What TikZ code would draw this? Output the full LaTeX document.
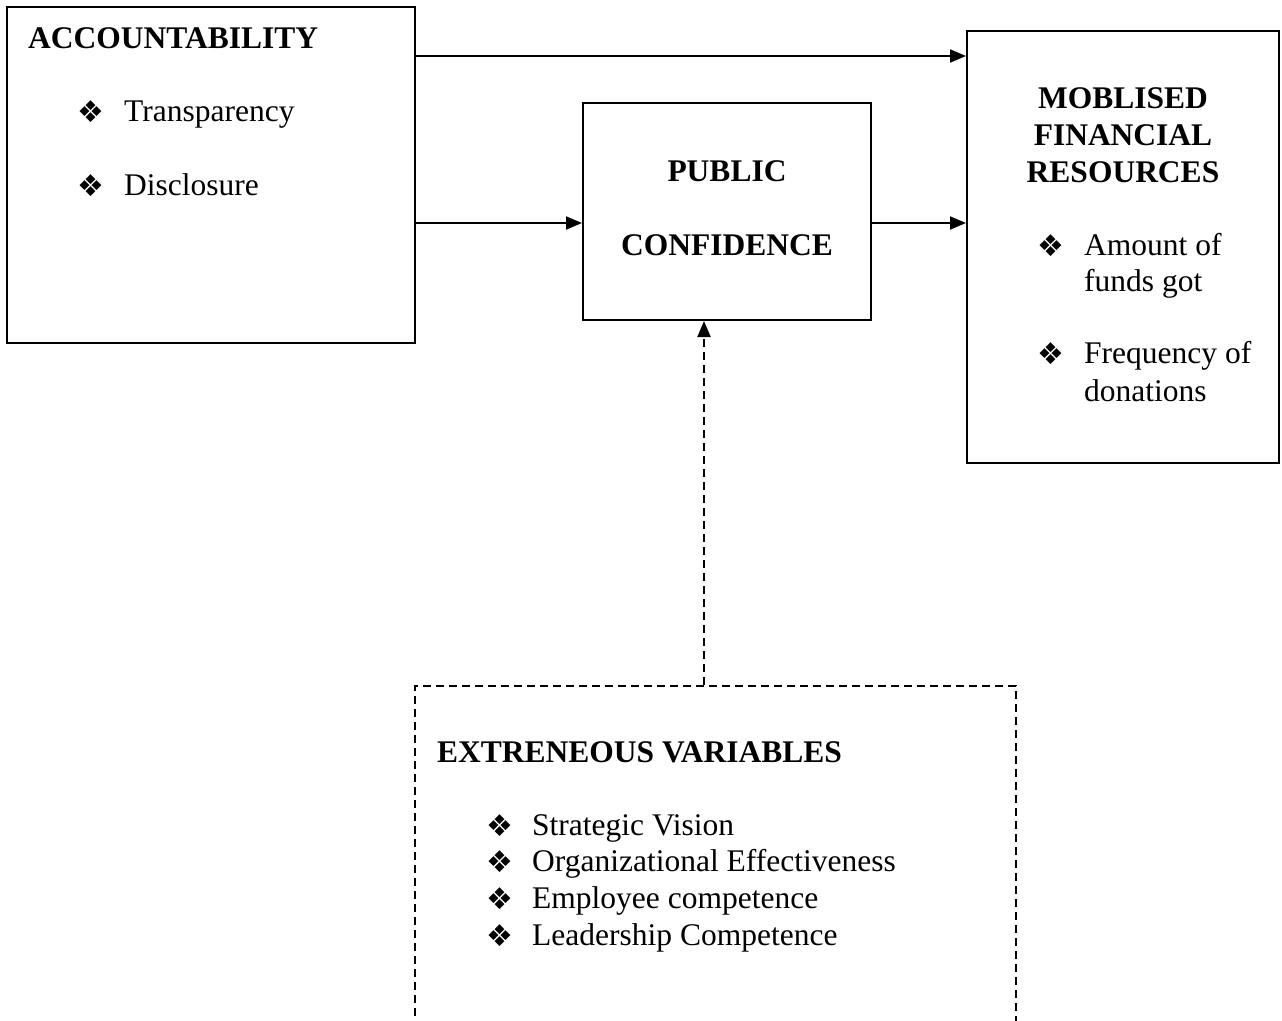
\documentclass[tikz,border=0pt]{standalone}
\usepackage{fontspec}
\setmainfont{Liberation Serif}
\newfontfamily\symfont{DejaVu Sans}
\usetikzlibrary{arrows.meta}
\newcommand{\bul}{{\symfont\fontsize{30}{30}\selectfont ❖}}
\tikzset{
  box/.style={draw, line width=2pt, inner sep=0pt},
  dbox/.style={box, dash pattern=on 8pt off 5pt},
  arr/.style={line width=2pt, -{Triangle[length=16pt,width=13pt]}},
  txt/.style={anchor=base west, inner sep=0pt, font=\fontsize{31.5}{37}\selectfont},
  head/.style={txt, font=\fontsize{31.5}{37}\selectfont\bfseries},
  mid/.style={head, anchor=base},
  dot/.style={anchor=base west, inner sep=0pt}
}
\begin{document}
\begin{tikzpicture}[x=1pt, y=-1pt]
		%%%%% START %%%%%
		\useasboundingbox (0,0) rectangle (1282,1020);
		\clip (0,0) rectangle (1282,1020);
		
		% boxes
		\node[box, minimum width=408, minimum height=336] (acc) at (211,175) {};
		\node[box, minimum width=288, minimum height=217] (pub) at (727,211.5) {};
		\node[box, minimum width=312, minimum height=432] (mob) at (1123,247) {};
		\node[dbox, minimum width=601, minimum height=374] (ext) at (715.5,873) {};
		
		% accountability
		\node[head] (accT) at (28,48) {ACCOUNTABILITY};
		\node[dot] (accD1) at (77,122) {\bul};
		\node[txt] (accA) at (124,121) {Transparency};
		\node[dot] (accD2) at (77,196) {\bul};
		\node[txt] (accB) at (124,195) {Disclosure};
		
		% public confidence
		\node[mid] (pubT1) at (727,181) {PUBLIC};
		\node[mid] (pubT2) at (727,255) {CONFIDENCE};
		
		% mobilised resources
		\node[mid] (mobT1) at (1123,108) {MOBLISED};
		\node[mid] (mobT2) at (1123,145) {FINANCIAL};
		\node[mid] (mobT3) at (1123,182) {RESOURCES};
		\node[dot] (mobD1) at (1037,256) {\bul};
		\node[txt] (mobA1) at (1084,255) {Amount of};
		\node[txt] (mobA2) at (1084,291) {funds got};
		\node[dot] (mobD2) at (1037,364) {\bul};
		\node[txt] (mobB1) at (1084,363) {Frequency of};
		\node[txt] (mobB2) at (1084,401) {donations};
		
		% extraneous variables
		\node[head] (extT) at (437,762) {EXTRENEOUS VARIABLES};
		\foreach \lbl [count=\i] in {Strategic Vision, Organizational Effectiveness, Employee competence, Leadership Competence}{
			\node[dot] (extD\i) at (486,{836+36.7*(\i-1)}) {\bul};
			\node[txt] (extL\i) at (532,{835+36.7*(\i-1)}) {\lbl};
		}
		
		% connectors
		\coordinate (rowA) at (0,56);
		\coordinate (rowB) at (0,223);
		\coordinate (colD) at (704,0);
		\draw[arr] (acc.east |- rowA) -- (mob.west |- rowA);
		\draw[arr] (acc.east |- rowB) -- (pub.west |- rowB);
		\draw[arr] (pub.east |- rowB) -- (mob.west |- rowB);
		\draw[arr, dash pattern=on 8pt off 5pt] (ext.north -| colD) -- (pub.south -| colD);
		%%%%% END %%%%%
\end{tikzpicture}
\end{document}
